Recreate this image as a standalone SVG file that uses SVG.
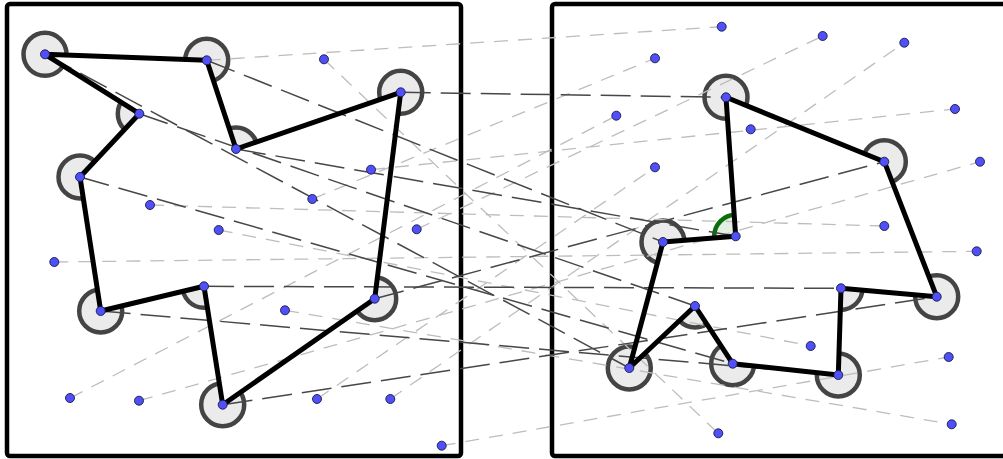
<svg xmlns="http://www.w3.org/2000/svg" width="1003" height="459" viewBox="0 0 1003 459">
<style>
.panel{fill:#fff;stroke:#000;stroke-width:4.5}
.ring{fill:#ebebeb;stroke:#444;stroke-width:4.5}
.green{fill:#e2efe2;stroke:#0a6e0a;stroke-width:4.5}
.cover{fill:#fff;stroke:none}
.edge{fill:none;stroke:#000;stroke-width:5;stroke-linejoin:round}
.dk{stroke:#474747;stroke-width:1.5;stroke-dasharray:30 10;fill:none}
.lt{stroke:#bdbdbd;stroke-width:1.3;stroke-dasharray:14 10;fill:none}
.dot{fill:#5050fa;stroke:#1a1a40;stroke-width:0.9}
</style>
<rect class="panel" x="7" y="4" width="454" height="452" rx="3"/>
<rect class="panel" x="552" y="4" width="460" height="452" rx="3"/>
<g id="left-vertex-rings">
<circle class="ring" cx="45" cy="54.3" r="21.5"/>
<circle class="ring" cx="206.7" cy="60.3" r="21.5"/>
<circle class="ring" cx="139.3" cy="113.7" r="21.5"/>
<circle class="ring" cx="236" cy="149" r="21.5"/>
<circle class="ring" cx="400.7" cy="92.3" r="21.5"/>
<circle class="ring" cx="374.7" cy="298.7" r="21.5"/>
<circle class="ring" cx="222.7" cy="404.7" r="21.5"/>
<circle class="ring" cx="204" cy="286.3" r="21.5"/>
<circle class="ring" cx="100.7" cy="311" r="21.5"/>
<circle class="ring" cx="80" cy="177" r="21.5"/>
</g>
<g id="right-vertex-rings">
<circle class="ring" cx="726" cy="97.3" r="21.5"/>
<circle class="ring" cx="884.3" cy="161.7" r="21.5"/>
<circle class="ring" cx="936.7" cy="296.7" r="21.5"/>
<circle class="ring" cx="841" cy="288.3" r="21.5"/>
<circle class="ring" cx="838.3" cy="375" r="21.5"/>
<circle class="ring" cx="732.7" cy="363.7" r="21.5"/>
<circle class="ring" cx="695" cy="306" r="21.5"/>
<circle class="ring" cx="629.3" cy="368" r="21.5"/>
<circle class="ring" cx="663" cy="242" r="21.5"/>
<circle class="green" cx="735.7" cy="236.3" r="21.5"/>
</g>
<polygon class="cover" points="45,54.3 206.7,60.3 236,149 400.7,92.3 374.7,298.7 222.7,404.7 204,286.3 100.7,311 80,177 139.3,113.7"/>
<polygon class="cover" points="726,97.3 884.3,161.7 936.7,296.7 841,288.3 838.3,375 732.7,363.7 695,306 629.3,368 663,242 735.7,236.3"/>
<g id="connectors">
<line class="lt" x1="206.7" y1="60.3" x2="721.7" y2="26.7"/>
<line class="lt" x1="324" y1="59.3" x2="718.3" y2="433.3"/>
<line class="lt" x1="371" y1="169.7" x2="955" y2="109"/>
<line class="lt" x1="312.3" y1="199" x2="655" y2="58.3"/>
<line class="lt" x1="150" y1="205" x2="884.3" y2="226"/>
<line class="lt" x1="218.7" y1="230" x2="810.7" y2="346"/>
<line class="lt" x1="416.7" y1="229.3" x2="822.7" y2="36"/>
<line class="lt" x1="54.3" y1="262" x2="976.7" y2="251.3"/>
<line class="lt" x1="285" y1="310.3" x2="951.7" y2="424.3"/>
<line class="lt" x1="70" y1="398" x2="616.3" y2="115.7"/>
<line class="lt" x1="139" y1="400.7" x2="980" y2="161.7"/>
<line class="lt" x1="317" y1="399" x2="655" y2="167.3"/>
<line class="lt" x1="390.3" y1="399" x2="904.3" y2="42.7"/>
<line class="lt" x1="441.7" y1="445.7" x2="948.7" y2="357"/>
<line class="dk" x1="45" y1="54.3" x2="629.3" y2="368"/>
<line class="dk" x1="206.7" y1="60.3" x2="663" y2="242"/>
<line class="dk" x1="139.3" y1="113.7" x2="695" y2="306"/>
<line class="dk" x1="236" y1="149" x2="735.7" y2="236.3"/>
<line class="dk" x1="400.7" y1="92.3" x2="726" y2="97.3"/>
<line class="dk" x1="374.7" y1="298.7" x2="884.3" y2="161.7"/>
<line class="dk" x1="222.7" y1="404.7" x2="936.7" y2="296.7"/>
<line class="dk" x1="204" y1="286.3" x2="841" y2="288.3"/>
<line class="dk" x1="100.7" y1="311" x2="838.3" y2="375"/>
<line class="dk" x1="80" y1="177" x2="732.7" y2="363.7"/>
</g>
<g id="left-polygon">
<polygon class="edge" points="45,54.3 206.7,60.3 236,149 400.7,92.3 374.7,298.7 222.7,404.7 204,286.3 100.7,311 80,177 139.3,113.7"/>
</g>
<g id="right-polygon">
<polygon class="edge" points="726,97.3 884.3,161.7 936.7,296.7 841,288.3 838.3,375 732.7,363.7 695,306 629.3,368 663,242 735.7,236.3"/>
</g>
<g id="left-points">
<circle class="dot" cx="45" cy="54.3" r="4.5"/>
<circle class="dot" cx="206.7" cy="60.3" r="4.5"/>
<circle class="dot" cx="139.3" cy="113.7" r="4.5"/>
<circle class="dot" cx="236" cy="149" r="4.5"/>
<circle class="dot" cx="400.7" cy="92.3" r="4.5"/>
<circle class="dot" cx="374.7" cy="298.7" r="4.5"/>
<circle class="dot" cx="222.7" cy="404.7" r="4.5"/>
<circle class="dot" cx="204" cy="286.3" r="4.5"/>
<circle class="dot" cx="100.7" cy="311" r="4.5"/>
<circle class="dot" cx="80" cy="177" r="4.5"/>
<circle class="dot" cx="324" cy="59.3" r="4.5"/>
<circle class="dot" cx="371" cy="169.7" r="4.5"/>
<circle class="dot" cx="312.3" cy="199" r="4.5"/>
<circle class="dot" cx="150" cy="205" r="4.5"/>
<circle class="dot" cx="218.7" cy="230" r="4.5"/>
<circle class="dot" cx="416.7" cy="229.3" r="4.5"/>
<circle class="dot" cx="54.3" cy="262" r="4.5"/>
<circle class="dot" cx="285" cy="310.3" r="4.5"/>
<circle class="dot" cx="70" cy="398" r="4.5"/>
<circle class="dot" cx="139" cy="400.7" r="4.5"/>
<circle class="dot" cx="317" cy="399" r="4.5"/>
<circle class="dot" cx="390.3" cy="399" r="4.5"/>
<circle class="dot" cx="441.7" cy="445.7" r="4.5"/>
</g>
<g id="right-points">
<circle class="dot" cx="726" cy="97.3" r="4.5"/>
<circle class="dot" cx="884.3" cy="161.7" r="4.5"/>
<circle class="dot" cx="936.7" cy="296.7" r="4.5"/>
<circle class="dot" cx="841" cy="288.3" r="4.5"/>
<circle class="dot" cx="838.3" cy="375" r="4.5"/>
<circle class="dot" cx="732.7" cy="363.7" r="4.5"/>
<circle class="dot" cx="695" cy="306" r="4.5"/>
<circle class="dot" cx="629.3" cy="368" r="4.5"/>
<circle class="dot" cx="663" cy="242" r="4.5"/>
<circle class="dot" cx="735.7" cy="236.3" r="4.5"/>
<circle class="dot" cx="721.7" cy="26.7" r="4.5"/>
<circle class="dot" cx="822.7" cy="36" r="4.5"/>
<circle class="dot" cx="904.3" cy="42.7" r="4.5"/>
<circle class="dot" cx="655" cy="58.3" r="4.5"/>
<circle class="dot" cx="616.3" cy="115.7" r="4.5"/>
<circle class="dot" cx="750.7" cy="129.3" r="4.5"/>
<circle class="dot" cx="955" cy="109" r="4.5"/>
<circle class="dot" cx="655" cy="167.3" r="4.5"/>
<circle class="dot" cx="980" cy="161.7" r="4.5"/>
<circle class="dot" cx="884.3" cy="226" r="4.5"/>
<circle class="dot" cx="976.7" cy="251.3" r="4.5"/>
<circle class="dot" cx="810.7" cy="346" r="4.5"/>
<circle class="dot" cx="948.7" cy="357" r="4.5"/>
<circle class="dot" cx="718.3" cy="433.3" r="4.5"/>
<circle class="dot" cx="951.7" cy="424.3" r="4.5"/>
</g>
</svg>
